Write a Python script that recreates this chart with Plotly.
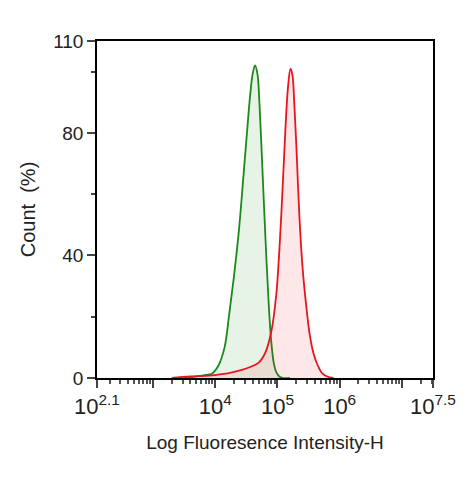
import plotly.graph_objects as go
import math

green_x = [3.5, 3.7, 3.85, 3.95, 4.05, 4.15, 4.22, 4.30, 4.38, 4.45, 4.51, 4.56, 4.60, 4.64, 4.68, 4.71, 4.74, 4.78, 4.82, 4.86, 4.90, 4.94, 4.98, 5.03, 5.08, 5.2]
green_y = [0, 0.5, 1, 1.5, 4, 10, 20, 33, 48, 65, 80, 92, 99, 102, 99, 90, 77, 58, 40, 24, 12, 5, 2, 0.5, 0, 0]
red_x = [3.3, 3.6, 3.9, 4.2, 4.4, 4.55, 4.7, 4.8, 4.9, 4.98, 5.04, 5.09, 5.13, 5.17, 5.21, 5.24, 5.27, 5.31, 5.35, 5.40, 5.46, 5.52, 5.58, 5.65, 5.72, 5.80, 5.9]
red_y = [0, 0.5, 0.8, 1.5, 2.5, 3.5, 5, 8, 15, 27, 45, 65, 82, 95, 101, 99, 90, 73, 54, 37, 24, 14, 8, 4, 1.5, 0.5, 0]

fig = go.Figure()
fig.add_trace(go.Scatter(x=green_x, y=green_y, mode="lines", line=dict(color="#1a8a1a", width=1.8, shape="spline"),
                         fill="tozeroy", fillcolor="rgba(30,140,30,0.10)"))
fig.add_trace(go.Scatter(x=red_x, y=red_y, mode="lines", line=dict(color="#e8141e", width=1.8, shape="spline"),
                         fill="tozeroy", fillcolor="rgba(232,20,30,0.10)"))

tickvals = [2.1, 3, 4, 5, 6, 7, 7.5]
ticktext = ["10<sup>2.1</sup>", "", "10<sup>4</sup>", "10<sup>5</sup>", "10<sup>6</sup>", "", "10<sup>7.5</sup>"]
minor = []
for d in range(2, 8):
    for m in range(2, 10):
        v = d + math.log10(m)
        if 2.1 < v < 7.5:
            minor.append(v)

fig.update_layout(
    width=476, height=479, showlegend=False, plot_bgcolor="white", paper_bgcolor="white",
    margin=dict(l=89, r=51, t=33, b=109),
    font=dict(family="Liberation Sans, Arial", size=20, color="#222"),
    xaxis=dict(range=[2.1, 7.5], tickvals=tickvals, ticktext=ticktext, ticks="outside", ticklen=8,
               tickwidth=1.5, showgrid=False, zeroline=False, showline=True, linecolor="black", linewidth=1.5,
               mirror=True, tickfont=dict(size=22),
               title=dict(text="Log Fluoresence Intensity-H", font=dict(size=19), standoff=18),
               minor=dict(tickvals=minor, ticks="outside", ticklen=4, tickcolor="#555")),
    yaxis=dict(range=[0, 110], tickvals=[0, 40, 80, 110], ticks="outside", ticklen=8, tickwidth=1.5,
               showgrid=False, zeroline=False, showline=True, linecolor="black", linewidth=1.5, mirror=True,
               tickfont=dict(size=19),
               title=dict(text="Count  (%)", font=dict(size=20), standoff=12),
               minor=dict(tickvals=[20, 60, 100], ticks="outside", ticklen=4)),
)
fig.write_html("out.html")
